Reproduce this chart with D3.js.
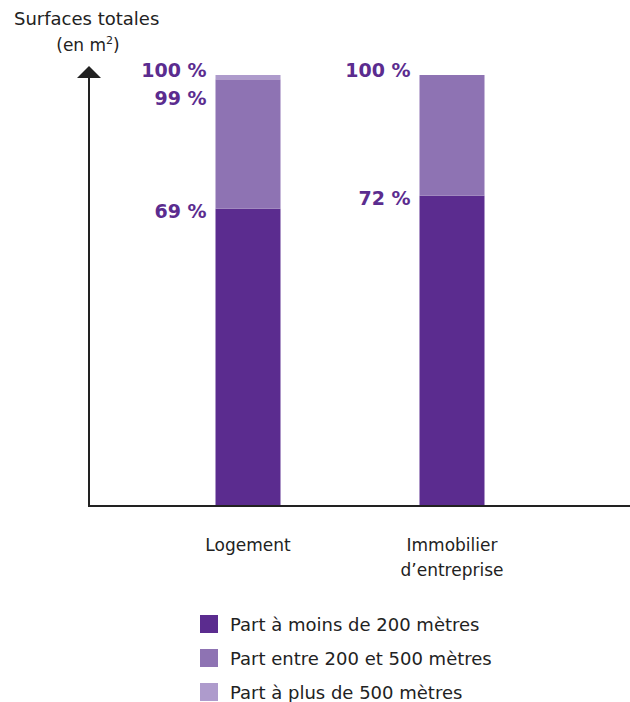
<!DOCTYPE html>
<html>
<head>
<meta charset="utf-8">
<script src="https://cdn.jsdelivr.net/npm/d3@7"></script>
<style>
  body { margin: 0; background: #fff; }
  svg { display: block; font-family: "DejaVu Sans", sans-serif; }
</style>
</head>
<body>
<svg id="chart" width="630" height="702"></svg>
<script>
// data
var categories = ["Logement", "Immobilier\nd\u2019entreprise"];
var seriesNames = ["Part à moins de 200 mètres", "Part entre 200 et 500 mètres", "Part à plus de 500 mètres"];
var below200 = [69, 72];
var between200and500 = [30, 28];
var above500 = [1, 0];
var cumLabels = [["69 %", "99 %", "100 %"], ["72 %", null, "100 %"]];

var colors = ["#5b2c8f", "#8e73b3", "#ae9bcc"];

var svg = d3.select("#chart");
var x0 = 89, yBase = 506;

var x = d3.scalePoint().domain(d3.range(categories.length)).range([248, 452]);
var y = d3.scaleLinear().domain([0, 100]).range([yBase, 75]);
var barW = 65;

var rows = categories.map(function (c, i) {
    return { i: i, v: [below200[i], between200and500[i], above500[i]] };
});
var stack = d3.stack().keys([0, 1, 2]).value(function (d, k) { return d.v[k]; });
var layers = stack(rows);

// bars
svg.selectAll("g.layer")
    .data(layers)
    .enter().append("g")
    .attr("class", "layer")
    .attr("fill", function (d, k) { return colors[k]; })
    .selectAll("rect")
    .data(function (d) { return d; })
    .enter().append("rect")
    .attr("x", function (d) { return x(d.data.i) - barW / 2; })
    .attr("width", barW)
    .attr("y", function (d) { return y(d[1]); })
    .attr("height", function (d) { return y(d[0]) - y(d[1]); });

// axes
svg.append("line")
    .attr("x1", x0).attr("x2", 630)
    .attr("y1", yBase).attr("y2", yBase)
    .attr("stroke", "#222").attr("stroke-width", 2);
svg.append("line")
    .attr("x1", x0).attr("x2", x0)
    .attr("y1", yBase + 1).attr("y2", 74)
    .attr("stroke", "#222").attr("stroke-width", 2);
svg.append("path")
    .attr("d", "M" + (x0 - 12) + ",78L" + x0 + ",66L" + (x0 + 12) + ",78Z")
    .attr("fill", "#222");

svg.append("text").attr("x", 14).attr("y", 25)
    .attr("font-size", 18).attr("fill", "#222")
    .text("Surfaces totales");
var unit = svg.append("text").attr("x", 88).attr("y", 51)
    .attr("text-anchor", "middle")
    .attr("font-size", 17).attr("fill", "#222");
unit.append("tspan").text("(en m");
unit.append("tspan").attr("font-size", 11).attr("dy", -7).text("2");
unit.append("tspan").attr("dy", 7).text(")");

// value labels, pushed down when too close to the one above
cumLabels.forEach(function (labs, i) {
    var cum = d3.cumsum(rows[i].v);
    var items = [];
    labs.forEach(function (t, k) {
        if (t) items.push({ t: t, yy: y(cum[k]) + (k === 2 ? 2 : 9) });
    });
    items.sort(function (a, b) { return a.yy - b.yy; });
    for (var j = 1; j < items.length; j++) {
        if (items[j].yy - items[j - 1].yy < 28) items[j].yy = items[j - 1].yy + 28;
    }
    items.forEach(function (it) {
        svg.append("text")
            .attr("x", x(i) - barW / 2 - 9)
            .attr("y", it.yy)
            .attr("text-anchor", "end")
            .attr("font-size", 19).attr("font-weight", "bold")
            .attr("fill", colors[0])
            .text(it.t);
    });
});

// category labels
categories.forEach(function (c, i) {
    var t = svg.append("text")
        .attr("x", x(i)).attr("y", 551)
        .attr("text-anchor", "middle")
        .attr("font-size", 17).attr("fill", "#222");
    c.split("\n").forEach(function (line, j) {
        t.append("tspan").attr("x", x(i)).attr("dy", j ? 25 : 0).text(line);
    });
});

// legend
var leg = svg.selectAll("g.leg")
    .data(seriesNames)
    .enter().append("g")
    .attr("class", "leg")
    .attr("transform", function (d, k) { return "translate(200," + (615 + k * 34) + ")"; });
leg.append("rect").attr("width", 18).attr("height", 18)
    .attr("fill", function (d, k) { return colors[k]; });
leg.append("text").attr("x", 30).attr("y", 16)
    .attr("font-size", 18).attr("fill", "#222")
    .text(function (d) { return d; });
</script>
</body>
</html>
